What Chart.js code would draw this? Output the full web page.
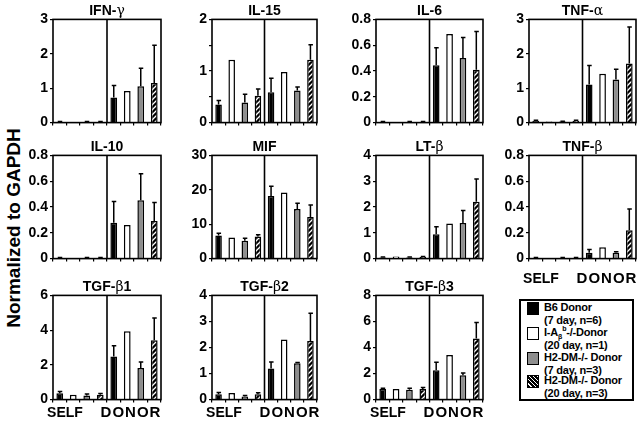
<!DOCTYPE html>
<html>
<head>
<meta charset="utf-8">
<script src="https://cdn.jsdelivr.net/npm/chart.js@4.4.0/dist/chart.umd.min.js"></script>
<style>
body { margin: 0; background: #fff; }
#fig { position: relative; width: 640px; height: 422px; overflow: hidden; font-family: "Liberation Sans", Arial, sans-serif; color: #000; }
.box { position: absolute; }
.ttl { position: absolute; font-weight: bold; font-size: 14px; line-height: 16px; text-align: center; white-space: nowrap; }
.g { font-family: "DejaVu Serif", serif; font-weight: normal; }
.xl { position: absolute; font-weight: bold; font-size: 15px; line-height: 16px; white-space: nowrap; text-align: center; }
#ytitle { position: absolute; left: 14px; top: 228px; transform: translate(-50%, -50%) rotate(-90deg); font-weight: bold; font-size: 19px; white-space: nowrap; }
#legend { position: absolute; left: 519px; top: 299px; width: 111px; height: 98px; border: 2px solid #000; }
.li { position: absolute; left: 6px; }
.sw { position: absolute; left: 0; top: 1px; width: 10px; height: 11px; border: 1.5px solid #000; }
.lt { position: absolute; left: 17px; top: 0; font-weight: bold; font-size: 11px; line-height: 12.5px; white-space: nowrap; letter-spacing: -0.2px; }
.lt sub, .lt sup { font-size: 7px; line-height: 0; }
</style>
</head>
<body>
<div id="fig">
  <div id="ytitle">Normalized to GAPDH</div>
  <div id="legend"></div>
</div>
<script>
// groups, in bar order inside each half
var groups = ['B6 Donor', 'I-A<sub>β</sub><sup>b</sup>-/-Donor', 'H2-DM-/- Donor', 'H2-DM-/- Donor'];
var groupNotes = ['(7 day, n=6)', '(20 day, n=1)', '(7 day, n=3)', '(20 day, n=3)'];
var categories = ['SELF', 'SELF', 'SELF', 'SELF', 'DONOR', 'DONOR', 'DONOR', 'DONOR'];

// mean and upper error, 4 SELF then 4 DONOR
var ifngMean = [0.02, 0.02, 0.02, 0.02, 0.73, 0.92, 1.06, 1.15];
var ifngErr = [0.01, 0, 0.01, 0.01, 0.35, 0, 0.52, 1.10];
var il15Mean = [0.35, 1.22, 0.39, 0.52, 0.59, 0.98, 0.62, 1.22];
var il15Err = [0.08, 0, 0.16, 0.13, 0.27, 0, 0.07, 0.29];
var il6Mean = [0.005, 0.005, 0.005, 0.005, 0.445, 0.687, 0.50, 0.41];
var il6Err = [0.003, 0, 0.003, 0.003, 0.135, 0, 0.16, 0.297];
var tnfaMean = [0.05, 0.03, 0.03, 0.05, 1.11, 1.42, 1.25, 1.72];
var tnfaErr = [0.02, 0, 0.01, 0.02, 0.55, 0, 0.30, 1.06];
var il10Mean = [0.005, 0.005, 0.005, 0.005, 0.277, 0.26, 0.453, 0.292];
var il10Err = [0.003, 0, 0.003, 0.003, 0.166, 0, 0.204, 0.143];
var mifMean = [6.7, 6.1, 5.2, 6.4, 18.2, 19.2, 14.4, 12.1];
var mifErr = [0.66, 0, 0.7, 0.5, 2.8, 0, 1.7, 3.5];
var ltbMean = [0.04, 0.08, 0.04, 0.06, 0.94, 1.36, 1.38, 2.2];
var ltbErr = [0.02, 0, 0.02, 0.02, 0.29, 0, 0.48, 0.89];
var tnfbMean = [0.005, 0.005, 0.005, 0.005, 0.045, 0.088, 0.045, 0.22];
var tnfbErr = [0.003, 0, 0.003, 0.003, 0.025, 0, 0.008, 0.165];
var tgfb1Mean = [0.37, 0.28, 0.24, 0.28, 2.48, 3.94, 1.82, 3.42];
var tgfb1Err = [0.09, 0, 0.08, 0.07, 0.62, 0, 0.34, 1.28];
var tgfb2Mean = [0.21, 0.25, 0.12, 0.21, 1.19, 2.31, 1.40, 2.25];
var tgfb2Err = [0.06, 0, 0.04, 0.05, 0.25, 0, 0.02, 1.06];
var tgfb3Mean = [0.82, 0.82, 0.75, 0.82, 2.25, 3.42, 1.87, 4.7];
var tgfb3Err = [0.05, 0, 0.12, 0.1, 0.62, 0, 0.18, 1.22];

// y tick labels
var ticks1 = [0, 1, 2, 3];
var ticks2 = [0, 1, 2];
var ticks08 = [0, 0.2, 0.4, 0.6, 0.8];
var ticks30 = [0, 10, 20, 30];
var ticks4 = [0, 1, 2, 3, 4];
var ticks6 = [0, 2, 4, 6];
var ticks8 = [0, 2, 4, 6, 8];

var cols = [[53, 161], [212, 317], [376, 483], [529, 636]];
var rows = [[19, 125], [155, 261], [295, 402]];

var panels = [
  { title: 'IFN-γ', mean: ifngMean, err: ifngErr, ticks: ticks1, r: 0, c: 0 },
  { title: 'IL-15', mean: il15Mean, err: il15Err, ticks: ticks2, r: 0, c: 1 },
  { title: 'IL-6', mean: il6Mean, err: il6Err, ticks: ticks08, r: 0, c: 2 },
  { title: 'TNF-α', mean: tnfaMean, err: tnfaErr, ticks: ticks1, r: 0, c: 3 },
  { title: 'IL-10', mean: il10Mean, err: il10Err, ticks: ticks08, r: 1, c: 0 },
  { title: 'MIF', mean: mifMean, err: mifErr, ticks: ticks30, r: 1, c: 1 },
  { title: 'LT-β', mean: ltbMean, err: ltbErr, ticks: ticks4, r: 1, c: 2 },
  { title: 'TNF-β', mean: tnfbMean, err: tnfbErr, ticks: ticks08, r: 1, c: 3, xl: 9 },
  { title: 'TGF-β1', mean: tgfb1Mean, err: tgfb1Err, ticks: ticks6, r: 2, c: 0, xl: 2 },
  { title: 'TGF-β2', mean: tgfb2Mean, err: tgfb2Err, ticks: ticks4, r: 2, c: 1, xl: 2 },
  { title: 'TGF-β3', mean: tgfb3Mean, err: tgfb3Err, ticks: ticks8, r: 2, c: 2, xl: 2 }
];

function makeHatch() {
  var c = document.createElement('canvas');
  c.width = 5; c.height = 5;
  var g = c.getContext('2d');
  g.fillStyle = '#000';
  g.fillRect(0, 0, 5, 5);
  g.strokeStyle = '#fff';
  g.lineWidth = 1.3;
  g.beginPath();
  g.moveTo(0, 5); g.lineTo(5, 0);
  g.moveTo(-1, 1); g.lineTo(1, -1);
  g.moveTo(4, 6); g.lineTo(6, 4);
  g.stroke();
  return g.createPattern(c, 'repeat');
}
var hatch = makeHatch();
var fills = ['#000', '#fff', '#8e8e8e', hatch];

var framePlugin = {
  id: 'frame',
  afterDatasetsDraw: function (chart) {
    var ctx = chart.ctx, a = chart.chartArea, xs = chart.scales.x, ys = chart.scales.y;
    var ds = chart.data.datasets[0];
    ctx.save();
    ctx.strokeStyle = '#000';
    ctx.lineWidth = 1.5;
    chart.getDatasetMeta(0).data.forEach(function (bar, i) {
      var e = ds.err[i];
      if (!e) return;
      var y0 = ys.getPixelForValue(ds.data[i]);
      var y1 = ys.getPixelForValue(ds.data[i] + e);
      ctx.beginPath();
      ctx.moveTo(bar.x, y0); ctx.lineTo(bar.x, y1);
      ctx.moveTo(bar.x - 2, y1); ctx.lineTo(bar.x + 2.5, y1);
      ctx.stroke();
    });
    ctx.lineWidth = 1.6;
    ctx.strokeRect(a.left, a.top, a.right - a.left, a.bottom - a.top);
    var mid = (xs.getPixelForValue(3) + xs.getPixelForValue(4)) / 2;
    ctx.beginPath();
    ctx.moveTo(mid, a.top); ctx.lineTo(mid, a.bottom);
    ctx.stroke();
    ctx.restore();
  }
};

var fig = document.getElementById('fig');

function addDiv(cls, html, css) {
  var d = document.createElement('div');
  d.className = cls;
  d.innerHTML = html;
  for (var k in css) d.style[k] = css[k];
  fig.appendChild(d);
  return d;
}

panels.forEach(function (p) {
  var L = cols[p.c][0], R = cols[p.c][1], T = rows[p.r][0], B = rows[p.r][1];
  var W = R - L, H = B - T;
  var box = addDiv('box', '', { left: (L - 40) + 'px', top: (T - 10) + 'px', width: (W + 44) + 'px', height: (H + 18) + 'px' });
  var cv = document.createElement('canvas');
  box.appendChild(cv);

  addDiv('ttl', p.title.replace(/([α-ω])/g, '<span class="g">$1</span>'),
    { left: (L - 20) + 'px', width: (W + 40) + 'px', top: (T - 17) + 'px' });
  if (p.xl) {
    addDiv('xl', 'SELF', { left: (L + 12 - 30) + 'px', width: '60px', top: (B + p.xl) + 'px', fontSize: '14px' });
    addDiv('xl', 'DONOR', { left: (L + 78 - 40) + 'px', width: '80px', top: (B + p.xl) + 'px', letterSpacing: '1px' });
  }

  var majors = p.ticks;
  var step = majors[1] - majors[0];
  new Chart(cv, {
    type: 'bar',
    data: {
      labels: categories,
      datasets: [{
        data: p.mean,
        err: p.err,
        backgroundColor: fills.concat(fills),
        borderColor: '#000',
        borderWidth: 1.5,
        barPercentage: 0.5,
        categoryPercentage: 1
      }]
    },
    options: {
      responsive: true,
      maintainAspectRatio: false,
      animation: false,
      layout: { padding: { top: 10, right: 4, left: 0, bottom: 0 } },
      plugins: { legend: { display: false }, tooltip: { enabled: false } },
      scales: {
        x: {
          offset: true,
          border: { display: false },
          grid: { offset: true, drawOnChartArea: false, tickLength: 3, color: '#000', lineWidth: 1.2 },
          ticks: { callback: function () { return ''; } },
          afterFit: function (s) { s.height = 8; }
        },
        y: {
          min: 0,
          max: majors[majors.length - 1],
          border: { display: false },
          grid: { drawOnChartArea: false, tickLength: 3, color: '#000', lineWidth: 1.2 },
          afterBuildTicks: function (s) {
            var t = [];
            for (var i = 0; i < majors.length; i++) {
              t.push({ value: majors[i] });
              if (i < majors.length - 1) t.push({ value: majors[i] + step / 2 });
            }
            s.ticks = t;
          },
          ticks: {
            color: '#000',
            padding: 2,
            font: { family: '"Liberation Sans", Arial, sans-serif', weight: 'bold', size: 14 },
            callback: function (v) {
              for (var i = 0; i < majors.length; i++) {
                if (Math.abs(majors[i] - v) < 1e-9) return String(majors[i]);
              }
              return '';
            }
          },
          afterFit: function (s) { s.width = 40; }
        }
      }
    },
    plugins: [framePlugin]
  });
});

// legend
var legend = document.getElementById('legend');
var swatchCss = ['background:#000', 'background:#fff', 'background:#8e8e8e',
  'background:repeating-linear-gradient(45deg,#000 0 2px,#fff 2px 3px)'];
var entryTops = [0, 25, 50, 73];
groups.forEach(function (g, i) {
  var d = document.createElement('div');
  d.className = 'li';
  d.style.top = entryTops[i] + 'px';
  d.innerHTML = '<div class="sw" style="' + swatchCss[i] + '"></div>' +
    '<div class="lt">' + g + '<br>' + groupNotes[i] + '</div>';
  legend.appendChild(d);
});
</script>
</body>
</html>
